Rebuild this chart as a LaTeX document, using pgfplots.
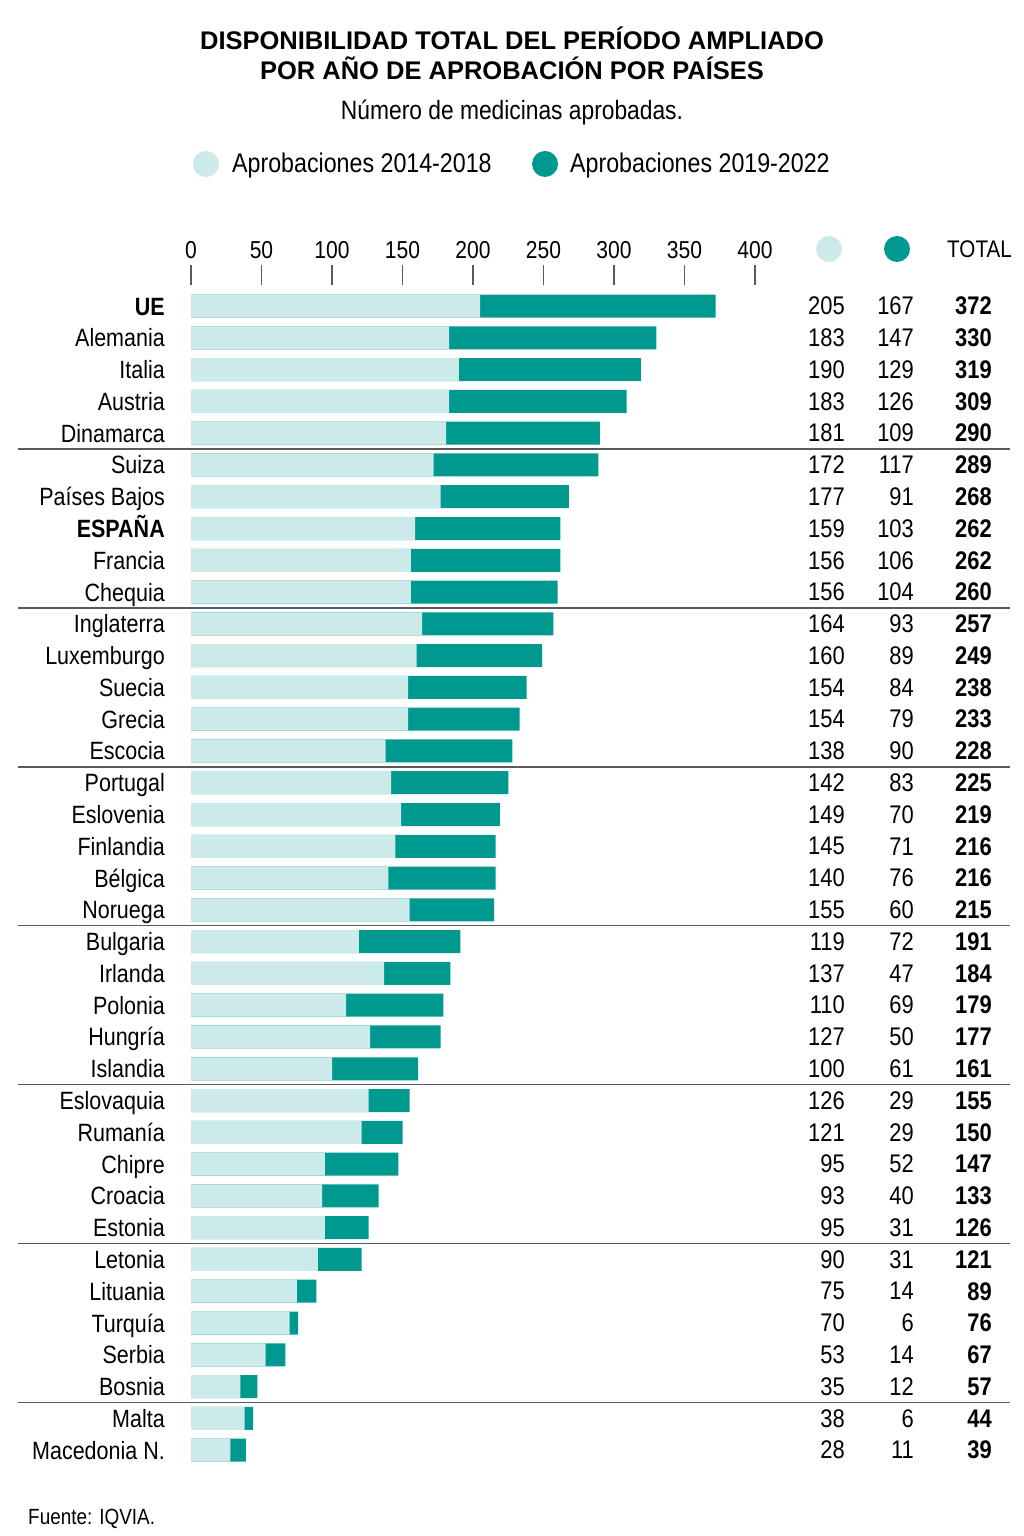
\documentclass[border=0pt]{standalone}
\usepackage{pgfplots}
\pgfplotsset{compat=1.18}
\usepackage{pgfplotstable}
\usepackage{fontspec}
\setmainfont{Liberation Sans}[FakeStretch=0.86]
\newfontfamily\titlefont{Liberation Sans}
\definecolor{lightteal}{RGB}{205,234,234}
\definecolor{darkteal}{RGB}{0,153,143}
\definecolor{rulegray}{RGB}{90,90,90}

\pgfplotstableread{
idx a b t
0 205 167 372
1 183 147 330
2 190 129 319
3 183 126 309
4 181 109 290
5 172 117 289
6 177 91 268
7 159 103 262
8 156 106 262
9 156 104 260
10 164 93 257
11 160 89 249
12 154 84 238
13 154 79 233
14 138 90 228
15 142 83 225
16 149 70 219
17 145 71 216
18 140 76 216
19 155 60 215
20 119 72 191
21 137 47 184
22 110 69 179
23 127 50 177
24 100 61 161
25 126 29 155
26 121 29 150
27 95 52 147
28 93 40 133
29 95 31 126
30 90 31 121
31 75 14 89
32 70 6 76
33 53 14 67
34 35 12 57
35 38 6 44
36 28 11 39
}\data

\begin{document}
\begin{tikzpicture}
\path (0pt,0pt) rectangle (1024pt,1536pt);
\node[anchor=base, inner sep=0pt, font=\titlefont\bfseries\fontsize{25.5}{30}\selectfont] at (512pt,1486pt) {DISPONIBILIDAD TOTAL DEL PERÍODO AMPLIADO};
\node[anchor=base, inner sep=0pt, font=\titlefont\bfseries\fontsize{25.5}{30}\selectfont] at (512pt,1456pt) {POR AÑO DE APROBACIÓN POR PAÍSES};
\node[anchor=base, inner sep=0pt, font=\fontsize{26.5}{30}\selectfont] at (512pt,1416pt) {Número de medicinas aprobadas.};
\fill[lightteal] (206pt,1372pt) circle (13pt);
\node[anchor=base west, inner sep=0pt, font=\fontsize{27}{30}\selectfont] at (232pt,1363pt) {Aprobaciones 2014-2018};
\fill[darkteal] (545pt,1372pt) circle (13pt);
\node[anchor=base west, inner sep=0pt, font=\fontsize{27}{30}\selectfont] at (570pt,1363pt) {Aprobaciones 2019-2022};
\fill[lightteal] (829pt,1287pt) circle (13pt);
\fill[darkteal] (897pt,1287pt) circle (13pt);
\node[anchor=base east, inner sep=0pt, font=\fontsize{24}{30}\selectfont] at (1012pt,1278pt) {TOTAL};
\node[anchor=base west, inner sep=0pt, font=\fontsize{22}{26}\selectfont] at (28pt,11.5pt) {Fuente: IQVIA.};

\begin{axis}[
  at={(191pt,70pt)}, anchor=south west,
  scale only axis, width=564pt, height=1180.6pt,
  xmin=0, xmax=400, ymin=-0.65, ymax=36.5, y dir=reverse,
  axis line style={draw=none}, clip=false,
  xtick=\empty, ytick={0,...,36}, major tick length=0pt,
  yticklabels={{\bfseries UE},Alemania,Italia,Austria,Dinamarca,Suiza,Países Bajos,{\bfseries ESPAÑA},Francia,Chequia,Inglaterra,Luxemburgo,Suecia,Grecia,Escocia,Portugal,Eslovenia,Finlandia,Bélgica,Noruega,Bulgaria,Irlanda,Polonia,Hungría,Islandia,Eslovaquia,Rumanía,Chipre,Croacia,Estonia,Letonia,Lituania,Turquía,Serbia,Bosnia,Malta,{Macedonia N.}},
  yticklabel style={anchor=base east, inner sep=0pt, xshift=-26pt, yshift=-9pt, font=\fontsize{25}{30}\selectfont},
]
\pgfplotsinvokeforeach{0,50,...,400}{
  \draw[rulegray, line width=1.3pt] (axis cs:#1,-0.65) -- ++(0pt,20pt);
  \node[anchor=base, inner sep=0pt, font=\fontsize{24.5}{30}\selectfont] at ([yshift=27pt]axis cs:#1,-0.65) {#1};
}
\pgfplotsinvokeforeach{4.5,9.5,...,34.5}{
  \draw[rulegray, line width=1.3pt] (axis cs:-122.7,#1) -- (axis cs:580.9,#1);
}
\addplot[xbar, bar shift=0pt, bar width=23pt, fill=darkteal, draw=none] table[x expr=\thisrow{a}+\thisrow{b}, y=idx]{\data};
\addplot[xbar, bar shift=0pt, bar width=23pt, fill=lightteal, draw=none] table[x=a, y=idx]{\data};
\addplot[draw=none, mark=none, nodes near coords, point meta=explicit symbolic,
  every node near coord/.append style={anchor=east, inner sep=0pt, font=\fontsize{25.5}{30}\selectfont}]
  table[x expr=463.8, y=idx, meta=a]{\data};
\addplot[draw=none, mark=none, nodes near coords, point meta=explicit symbolic,
  every node near coord/.append style={anchor=east, inner sep=0pt, font=\fontsize{25.5}{30}\selectfont}]
  table[x expr=512.8, y=idx, meta=b]{\data};
\addplot[draw=none, mark=none, nodes near coords, point meta=explicit symbolic,
  every node near coord/.append style={anchor=east, inner sep=0pt, font=\bfseries\fontsize{25.5}{30}\selectfont}]
  table[x expr=568.1, y=idx, meta=t]{\data};
\end{axis}
\end{tikzpicture}
\end{document}
